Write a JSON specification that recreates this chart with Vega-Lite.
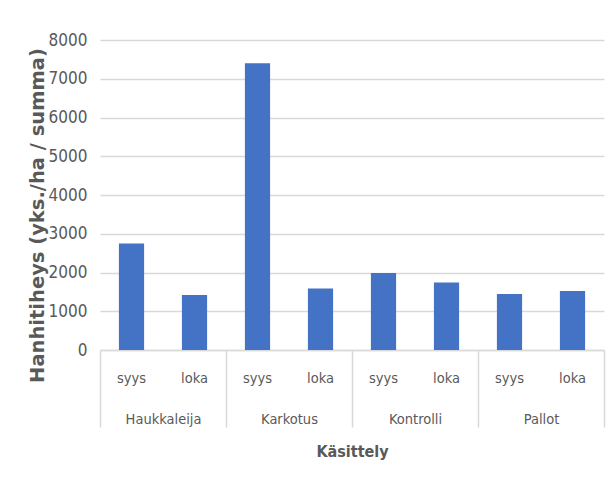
{
  "$schema": "https://vega.github.io/schema/vega-lite/v6.json",
  "width": 504,
  "height": 310,
  "autosize": {"type": "none"},
  "padding": {"left": 100, "top": 40, "right": 7, "bottom": 132},
  "background": "#ffffff",
  "config": {
    "view": {"stroke": null},
    "axis": {
      "labelColor": "#595959",
      "titleColor": "#595959",
      "labelFont": "DejaVu Sans Condensed",
      "labelFontSize": 14
    },
    "axisY": {
      "title": "Hanhitiheys (yks./ha / summa)",
      "titleFont": "DejaVu Sans",
      "titleFontSize": 19.5,
      "titleFontWeight": "bold",
      "titlePadding": 1,
      "titleY": 175,
      "values": [0, 1000, 2000, 3000, 4000, 5000, 6000, 7000, 8000],
      "format": "d",
      "labelOverlap": false,
      "labelFontSize": 17,
      "domain": false,
      "ticks": false,
      "labelPadding": 13,
      "gridColor": "#d9d9d9",
      "gridWidth": 1.5
    }
  },
  "data": {
    "values": [
      {"kasittely": "Haukkaleija", "kuukausi": "syys", "tiheys": 2750},
      {"kasittely": "Haukkaleija", "kuukausi": "loka", "tiheys": 1420},
      {"kasittely": "Karkotus", "kuukausi": "syys", "tiheys": 7400},
      {"kasittely": "Karkotus", "kuukausi": "loka", "tiheys": 1590},
      {"kasittely": "Kontrolli", "kuukausi": "syys", "tiheys": 1990},
      {"kasittely": "Kontrolli", "kuukausi": "loka", "tiheys": 1745},
      {"kasittely": "Pallot", "kuukausi": "syys", "tiheys": 1445},
      {"kasittely": "Pallot", "kuukausi": "loka", "tiheys": 1525}
    ]
  },
  "encoding": {
    "x": {
      "field": "kasittely",
      "type": "nominal",
      "scale": {"domain": ["Haukkaleija", "Karkotus", "Kontrolli", "Pallot"], "paddingInner": 0, "paddingOuter": 0},
      "axis": {
        "title": "Käsittely",
        "titleFont": "DejaVu Sans Condensed",
        "titleFontSize": 16,
        "titleFontWeight": "bold",
        "titlePadding": 16,
        "labelAngle": 0,
        "labelBaseline": "middle",
        "labelFontSize": 14.5,
        "labelPadding": -7.5,
        "domainColor": "#d9d9d9",
        "domainWidth": 1.5,
        "ticks": true,
        "tickBand": "extent",
        "tickSize": 77,
        "tickColor": "#d9d9d9",
        "tickWidth": 1.5,
        "grid": false
      }
    },
    "xOffset": {
      "field": "kuukausi",
      "type": "nominal",
      "scale": {"domain": ["syys", "loka"], "paddingInner": 0.6, "paddingOuter": 0.3}
    }
  },
  "layer": [
    {
      "mark": {"type": "bar", "color": "#4472C4"},
      "encoding": {
        "y": {
          "field": "tiheys",
          "type": "quantitative",
          "title": "Hanhitiheys (yks./ha / summa)",
          "scale": {"domain": [0, 8000], "nice": false}
        }
      }
    },
    {
      "mark": {"type": "text", "baseline": "middle", "align": "center", "dy": 29, "font": "DejaVu Sans Condensed", "fontSize": 14.5, "color": "#595959"},
      "encoding": {
        "y": {"datum": 0, "type": "quantitative", "title": "Hanhitiheys (yks./ha / summa)"},
        "text": {"field": "kuukausi"}
      }
    }
  ]
}
